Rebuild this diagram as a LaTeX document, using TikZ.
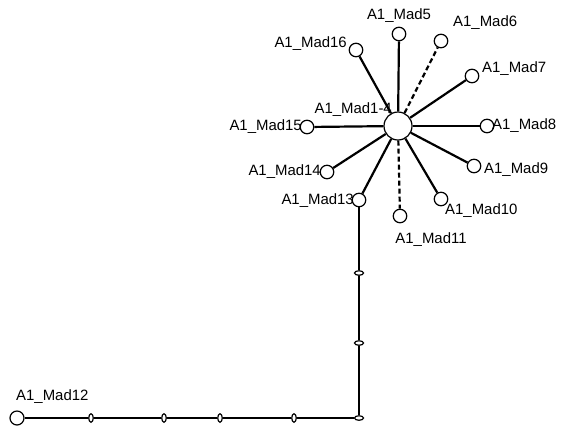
\documentclass[tikz,border=0pt]{standalone}
\usepackage{fontspec}
\setmainfont{Liberation Sans}
\usetikzlibrary{shapes.geometric}
\begin{document}
\begin{tikzpicture}[x=1bp,y=-1bp,
  sat/.style={circle,draw,line width=1.2bp,fill=white,minimum size=13.5bp,inner sep=0pt},
  hub/.style={circle,draw,line width=1.2bp,fill=white,minimum size=28bp,inner sep=0pt},
  hop/.style={ellipse,draw,line width=1.2bp,fill=white,minimum width=4.5bp,minimum height=8.5bp,inner sep=0pt},
  vhop/.style={ellipse,draw,line width=1.2bp,fill=white,minimum width=9bp,minimum height=4.5bp,inner sep=0pt},
  lbl/.style={inner sep=0pt,font=\fontsize{15pt}{17pt}\selectfont},
  link/.style={line width=2.2bp},
  dlink/.style={line width=2.2bp,dash pattern=on 5bp off 3bp}]
\useasboundingbox (0,0) rectangle (564,425);
% nodes
\node[hub] (c) at (398,126) {};
\node[sat] (m5) at (399,34) {};
\node[sat] (m6) at (441,41) {};
\node[sat] (m16) at (356,50) {};
\node[sat] (m7) at (472,76) {};
\node[sat] (m15) at (307,127) {};
\node[sat] (m8) at (487,126) {};
\node[sat] (m14) at (327,172) {};
\node[sat] (m9) at (474,166) {};
\node[sat] (m13) at (359,200) {};
\node[sat] (m10) at (441,199) {};
\node[sat] (m11) at (400,216) {};
\node[sat,minimum size=14bp] (m12) at (17,418) {};
\node[vhop] (v1) at (359,273) {};
\node[vhop] (v2) at (359,343) {};
\node[vhop] (k) at (359,418) {};
\node[hop] (h4) at (294,418) {};
\node[hop] (h3) at (220,418) {};
\node[hop] (h2) at (164,418) {};
\node[hop] (h1) at (91,418) {};
% edges
\draw[link] (c) -- (m5);
\draw[dlink] (c) -- (m6);
\draw[link] (c) -- (m16);
\draw[link] (c) -- (m7);
\draw[link] (c) -- (m15);
\draw[link] (c) -- (m8);
\draw[link] (c) -- (m14);
\draw[link] (c) -- (m9);
\draw[link] (c) -- (m13);
\draw[link] (c) -- (m10);
\draw[dlink] (c) -- (m11);
\draw[link] (m13) -- (v1);
\draw[link] (v1) -- (v2);
\draw[link] (v2) -- (k);
\draw[link] (k) -- (h4);
\draw[link] (h4) -- (h3);
\draw[link] (h3) -- (h2);
\draw[link] (h2) -- (h1);
\draw[link] (h1) -- (m12);
% labels
\node[lbl] (l5) at (399,16) {A1\_Mad5};
\node[lbl,anchor=west] (l6) at (453,23) {A1\_Mad6};
\node[lbl,anchor=east] (l16) at (347,44) {A1\_Mad16};
\node[lbl,anchor=west] (l7) at (482,69) {A1\_Mad7};
\node[lbl,anchor=east] (l14c) at (392,110) {A1\_Mad1-4};
\node[lbl,anchor=east] (l15) at (302,127) {A1\_Mad15};
\node[lbl,anchor=west] (l8) at (492,126) {A1\_Mad8};
\node[lbl,anchor=west] (l9) at (484,170) {A1\_Mad9};
\node[lbl,anchor=east] (l14) at (321,172) {A1\_Mad14};
\node[lbl,anchor=east] (l13) at (354,201) {A1\_Mad13};
\node[lbl,anchor=west] (l10) at (445,211) {A1\_Mad10};
\node[lbl] (l11) at (431,240) {A1\_Mad11};
\node[lbl,anchor=west] (l12) at (16,397) {A1\_Mad12};
\end{tikzpicture}
\end{document}
